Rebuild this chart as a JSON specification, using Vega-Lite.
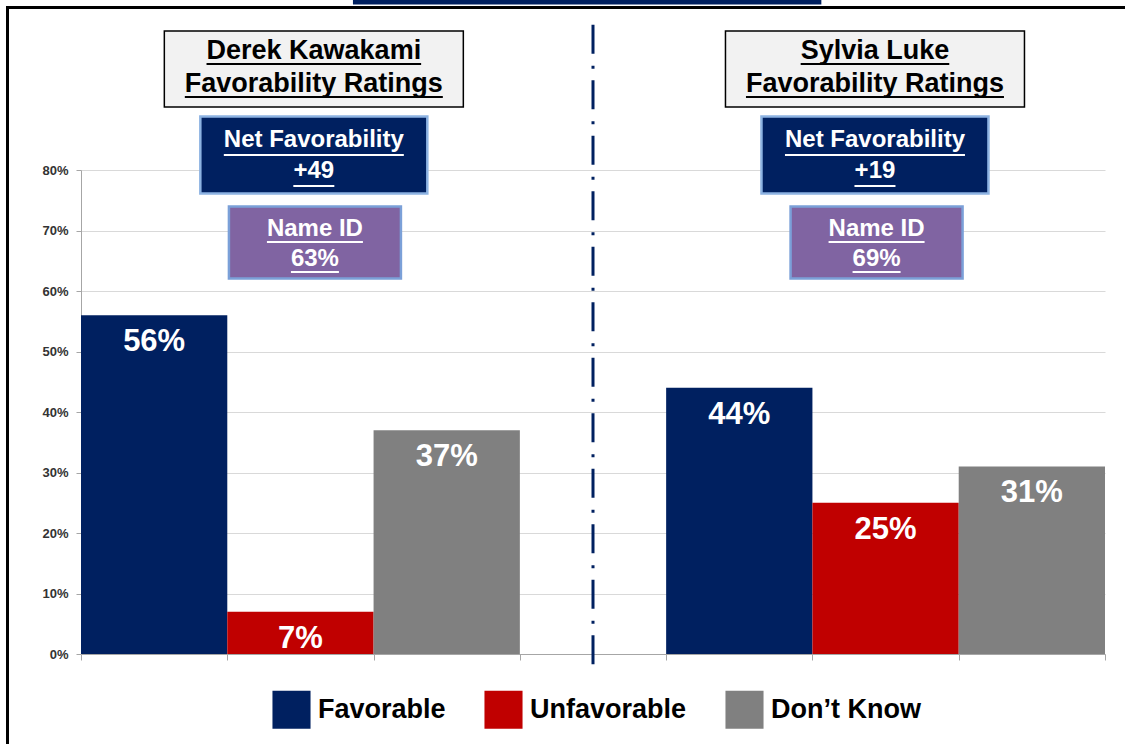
{
  "$schema": "https://vega.github.io/schema/vega-lite/v6.json",
  "width": 1024,
  "height": 484,
  "autosize": {"type": "none"},
  "padding": {"left": 81, "top": 170, "right": 20, "bottom": 90},
  "background": "white",
  "config": {"view": {"stroke": null}, "font": "Liberation Sans"},
  "datasets": {
    "ratings": [
      {"slot": "Kawakami Favorable", "candidate": "Derek Kawakami", "response": "Favorable", "value": 0.56},
      {"slot": "Kawakami Unfavorable", "candidate": "Derek Kawakami", "response": "Unfavorable", "value": 0.07},
      {"slot": "Kawakami Don’t Know", "candidate": "Derek Kawakami", "response": "Don’t Know", "value": 0.37},
      {"slot": "Luke Favorable", "candidate": "Sylvia Luke", "response": "Favorable", "value": 0.44},
      {"slot": "Luke Unfavorable", "candidate": "Sylvia Luke", "response": "Unfavorable", "value": 0.25},
      {"slot": "Luke Don’t Know", "candidate": "Sylvia Luke", "response": "Don’t Know", "value": 0.31}
    ],
    "boxes": [
      {"slot": "Kawakami Unfavorable", "candidate": "Derek Kawakami", "title": ["Derek Kawakami", "Favorability Ratings"], "net": ["Net Favorability", "+49"], "nameId": ["Name ID", "63%"]},
      {"slot": "Luke Unfavorable", "candidate": "Sylvia Luke", "title": ["Sylvia Luke", "Favorability Ratings"], "net": ["Net Favorability", "+19"], "nameId": ["Name ID", "69%"]}
    ]
  },
  "layer": [
    {
      "data": {"name": "ratings"},
      "mark": {"type": "bar"},
      "encoding": {
        "x": {
          "field": "slot", "type": "nominal", "sort": null,
          "scale": {"domain": ["Kawakami Favorable", "Kawakami Unfavorable", "Kawakami Don’t Know", "gap", "Luke Favorable", "Luke Unfavorable", "Luke Don’t Know"], "paddingInner": 0, "paddingOuter": 0},
          "axis": {"title": null, "labels": false, "ticks": true, "tickSize": 6, "tickBand": "extent", "domainColor": "#a6a6a6", "tickColor": "#a6a6a6", "grid": false}
        },
        "y": {
          "field": "value", "type": "quantitative",
          "scale": {"domain": [0, 0.8], "nice": false},
          "axis": {"title": null, "values": [0, 0.1, 0.2, 0.3, 0.4, 0.5, 0.6, 0.7, 0.8], "format": ".0%", "labelFont": "Liberation Sans", "labelFontWeight": "bold", "labelFontSize": 13, "labelColor": "#333333", "tickSize": 5, "tickColor": "#a6a6a6", "domainColor": "#a6a6a6", "gridColor": "#d9d9d9", "labelPadding": 8}
        },
        "color": {
          "field": "response", "type": "nominal",
          "scale": {"domain": ["Favorable", "Unfavorable", "Don’t Know"], "range": ["#002060", "#C00000", "#808080"]},
          "legend": {"orient": "none", "legendX": 191, "legendY": 520, "direction": "horizontal", "title": null, "symbolType": "square", "symbolSize": 1450, "symbolStrokeWidth": 0, "symbolOpacity": 1, "labelFont": "Liberation Sans", "labelFontSize": 27, "labelFontWeight": "bold", "labelColor": "black", "labelOffset": 7, "columnPadding": 38, "padding": 0, "labelLimit": 400}
        }
      }
    },
    {
      "data": {"name": "ratings"},
      "mark": {"type": "text", "baseline": "alphabetic", "dy": 36, "fontSize": 31, "fontWeight": "bold", "color": "white"},
      "encoding": {
        "x": {"field": "slot", "type": "nominal"},
        "y": {"field": "value", "type": "quantitative"},
        "text": {"field": "value", "type": "quantitative", "format": ".0%"}
      }
    },
    {
      "data": {"values": [{}]},
      "mark": {"type": "rule", "color": "#002060", "strokeWidth": 3, "strokeDash": [29, 12, 3, 11.5]},
      "encoding": {"x": {"datum": "gap"}, "y": {"datum": 1.04}, "y2": {"datum": -0.018}}
    },
    {
      "data": {"values": [{}]},
      "mark": {"type": "rect", "color": "#002060"},
      "encoding": {"x": {"datum": "Kawakami Unfavorable", "bandPosition": 0.859}, "x2": {"datum": "Luke Favorable", "bandPosition": 1.061}, "y": {"datum": 1.09}, "y2": {"datum": 1.0736}}
    },
    {
      "data": {"values": [{}]},
      "mark": {"type": "rect", "filled": false, "stroke": "black", "strokeWidth": 3},
      "encoding": {"x": {"datum": "Kawakami Favorable", "bandPosition": -0.5024}, "x2": {"datum": "Luke Don’t Know", "bandPosition": 1.3}, "y": {"datum": 1.0686}, "y2": {"datum": -0.2}}
    },
    {
      "data": {"name": "boxes"},
      "mark": {"type": "rect", "width": 299, "fill": "#f2f2f2", "stroke": "black", "strokeWidth": 1.5, "xOffset": {"expr": "datum.candidate === 'Derek Kawakami' ? 13.4 : -10.6"}},
      "encoding": {
        "x": {"field": "slot", "type": "nominal"},
        "y": {"datum": 1.0298}, "y2": {"datum": 0.904}
      }
    },
    {
      "data": {"name": "boxes"},
      "mark": {"type": "text", "fontSize": 27, "fontWeight": "bold", "color": "black", "lineHeight": 33, "baseline": "middle", "xOffset": {"expr": "datum.candidate === 'Derek Kawakami' ? 13.4 : -10.6"}},
      "encoding": {
        "x": {"field": "slot", "type": "nominal"},
        "y": {"datum": 0.996},
        "text": {"field": "title", "type": "nominal"}
      }
    },
    {
      "data": {"name": "boxes"},
      "mark": {"type": "rule", "color": "black", "strokeWidth": 2, "xOffset": {"expr": "datum.candidate === 'Derek Kawakami' ? -93.9 : -84.9"}, "x2Offset": {"expr": "datum.candidate === 'Derek Kawakami' ? 120.7 : 63.7"}},
      "encoding": {
        "x": {"field": "slot", "type": "nominal", "bandPosition": 0.5},
        "x2": {"field": "slot", "bandPosition": 0.5},
        "y": {"datum": 0.9752}
      }
    },
    {
      "data": {"name": "boxes"},
      "mark": {"type": "rule", "color": "black", "strokeWidth": 2, "xOffset": {"expr": "datum.candidate === 'Derek Kawakami' ? -115.6 : -139.6"}, "x2Offset": {"expr": "datum.candidate === 'Derek Kawakami' ? 142.4 : 118.4"}},
      "encoding": {
        "x": {"field": "slot", "type": "nominal", "bandPosition": 0.5},
        "x2": {"field": "slot", "bandPosition": 0.5},
        "y": {"datum": 0.9207}
      }
    },
    {
      "data": {"name": "boxes"},
      "mark": {"type": "rect", "width": 227, "fill": "#002060", "stroke": "#8db3e2", "strokeWidth": 2.5, "xOffset": {"expr": "datum.candidate === 'Derek Kawakami' ? 13.4 : -10.6"}},
      "encoding": {
        "x": {"field": "slot", "type": "nominal"},
        "y": {"datum": 0.8884}, "y2": {"datum": 0.7612}
      }
    },
    {
      "data": {"name": "boxes"},
      "mark": {"type": "text", "fontSize": 24, "fontWeight": "bold", "color": "white", "lineHeight": 31, "baseline": "middle", "xOffset": {"expr": "datum.candidate === 'Derek Kawakami' ? 13.4 : -10.6"}},
      "encoding": {
        "x": {"field": "slot", "type": "nominal"},
        "y": {"datum": 0.8496},
        "text": {"field": "net", "type": "nominal"}
      }
    },
    {
      "data": {"name": "boxes"},
      "mark": {"type": "rule", "color": "white", "strokeWidth": 2, "xOffset": {"expr": "datum.candidate === 'Derek Kawakami' ? -76.6 : -100.6"}, "x2Offset": {"expr": "datum.candidate === 'Derek Kawakami' ? 103.4 : 79.4"}},
      "encoding": {
        "x": {"field": "slot", "type": "nominal", "bandPosition": 0.5},
        "x2": {"field": "slot", "bandPosition": 0.5},
        "y": {"datum": 0.8248}
      }
    },
    {
      "data": {"name": "boxes"},
      "mark": {"type": "rule", "color": "white", "strokeWidth": 2, "xOffset": {"expr": "datum.candidate === 'Derek Kawakami' ? -7.1 : -31.1"}, "x2Offset": {"expr": "datum.candidate === 'Derek Kawakami' ? 33.9 : 9.9"}},
      "encoding": {
        "x": {"field": "slot", "type": "nominal", "bandPosition": 0.5},
        "x2": {"field": "slot", "bandPosition": 0.5},
        "y": {"datum": 0.7736}
      }
    },
    {
      "data": {"name": "boxes"},
      "mark": {"type": "rect", "width": 172, "fill": "#8064a2", "stroke": "#7ba0d8", "strokeWidth": 2.5, "xOffset": {"expr": "datum.candidate === 'Derek Kawakami' ? 14.5 : -9"}},
      "encoding": {
        "x": {"field": "slot", "type": "nominal"},
        "y": {"datum": 0.7397}, "y2": {"datum": 0.6207}
      }
    },
    {
      "data": {"name": "boxes"},
      "mark": {"type": "text", "fontSize": 24, "fontWeight": "bold", "color": "white", "lineHeight": 30, "baseline": "middle", "xOffset": {"expr": "datum.candidate === 'Derek Kawakami' ? 14.5 : -9"}},
      "encoding": {
        "x": {"field": "slot", "type": "nominal"},
        "y": {"datum": 0.7033},
        "text": {"field": "nameId", "type": "nominal"}
      }
    },
    {
      "data": {"name": "boxes"},
      "mark": {"type": "rule", "color": "white", "strokeWidth": 2, "xOffset": {"expr": "datum.candidate === 'Derek Kawakami' ? -33.5 : -57"}, "x2Offset": {"expr": "datum.candidate === 'Derek Kawakami' ? 62.5 : 39"}},
      "encoding": {
        "x": {"field": "slot", "type": "nominal", "bandPosition": 0.5},
        "x2": {"field": "slot", "bandPosition": 0.5},
        "y": {"datum": 0.6811}
      }
    },
    {
      "data": {"name": "boxes"},
      "mark": {"type": "rule", "color": "white", "strokeWidth": 2, "xOffset": {"expr": "datum.candidate === 'Derek Kawakami' ? -9.5 : -33"}, "x2Offset": {"expr": "datum.candidate === 'Derek Kawakami' ? 38.5 : 15"}},
      "encoding": {
        "x": {"field": "slot", "type": "nominal", "bandPosition": 0.5},
        "x2": {"field": "slot", "bandPosition": 0.5},
        "y": {"datum": 0.6314}
      }
    }
  ]
}
